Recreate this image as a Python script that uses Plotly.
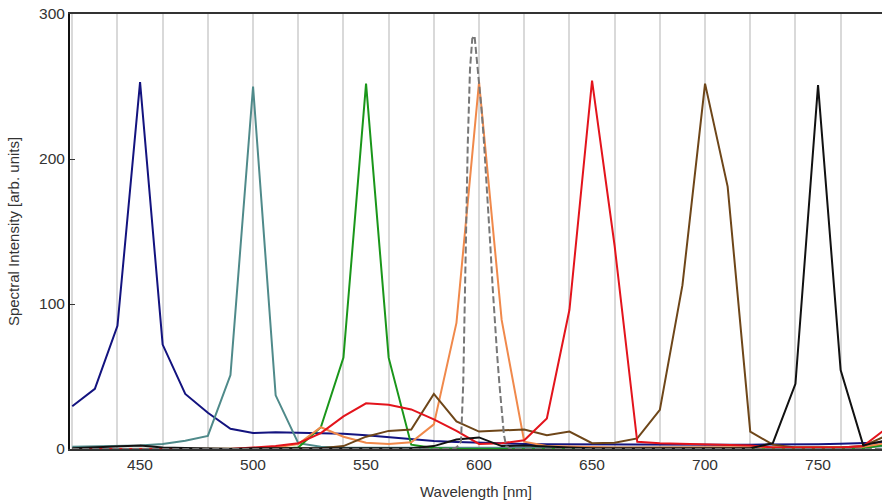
import plotly.graph_objects as go

wavelength = [420, 430, 440, 450, 460, 470, 480, 490, 500, 510, 520, 530, 540, 550, 560, 570,
              580, 590, 600, 610, 620, 630, 640, 650, 660, 670, 680, 690, 700, 710, 720, 730,
              740, 750, 760, 770, 780]

blue =   [29.5, 41.5, 85, 253, 72, 38, 25, 14, 11, 11.5, 11.2, 11, 10.5, 9.5, 8, 6.5,
          5.5, 4.8, 4.2, 3.8, 3.5, 3.3, 3.2, 3, 3, 2.9, 2.8, 2.8, 2.8, 2.9, 3, 3,
          3, 3.2, 3.6, 4, 4.5]
teal =   [1.6, 1.8, 2, 2.5, 3.5, 5.7, 9, 51, 250, 37, 4, 1.5, 1, 0.8, 0.8, 0.8,
          0.8, 0.8, 0.8, 0.8, 0.8, 0.8, 0.8, 0.8, 0.8, 0.8, 0.8, 0.8, 0.8, 0.8, 0.8, 0.8,
          0.8, 0.8, 0.8, 1, 2]
green =  [0, 0, 0, 0, 0, 0, 0, 0, 0, 0, 1, 15, 63, 252, 63, 3, 0.7, 0, 0, 0, 0, 0, 0,
          0, 0, 0, 0, 0, 0, 0, 0, 0, 0, 0, 0, 0.5, 3]
orange = [0, 0, 0, 0, 0, 0, 0, 0, 0, 1, 3.4, 15, 8.5, 4.3, 3.4, 4.6, 17, 87, 253, 89, 5, 2,
          1.5, 1.5, 1, 1, 1, 1, 1, 1, 1, 1, 1, 1, 1, 1.5, 4]
red =    [0, 0, 0, 0, 0, 0, 0, 0, 1, 2, 4, 11, 22.5, 31.5, 30.5, 27.3, 20.5, 12.5, 3.5, 4, 6,
          21, 96, 254, 140, 5, 4, 3.5, 3, 3, 2.5, 1, 1, 1, 1, 2, 14]
brown =  [0, 0, 0, 0, 0, 0, 0, 0, 0, 0, 0, 0.5, 2, 8.5, 12.5, 13.5, 38, 19, 12, 13, 13.5,
          9.5, 12, 4, 4.3, 7.3, 27, 113, 252, 181, 12, 3, 1, 1, 1, 2, 9]
black =  [0.5, 1, 2, 2.5, 1, 0.5, 0.5, 0, 0.5, 0.5, 0.5, 0.5, 0.5, 0.5, 0.5, 0.5, 2, 6.5,
          8, 2, 2.5, 1.5, 1, 0.5, 0.5, 0.5, 0.5, 0.5, 0.5, 0.5, 0.5, 4, 45, 251, 54.5, 2.5, 6]

laser_wl = [420, 440, 460, 480, 500, 520, 540, 560, 580, 588, 590, 592, 593, 594, 595, 596,
            597, 598, 599, 600, 601, 602, 603, 604, 605, 606, 607, 608, 609, 610, 611, 612,
            614, 620, 640, 660, 680, 700, 720, 740, 760, 780]
laser =    [0, 0, 0, 0, 0, 0, 0, 0, 0, 0, 1, 5, 45, 137, 210, 262, 283, 285, 270, 252, 236,
            216, 193, 165, 140, 112, 86, 65, 45, 25, 10, 2, 0, 0, 0, 0, 0, 0, 0, 0, 0, 0]

x_range = [419, 778.3]
label_ticks = [450, 500, 550, 600, 650, 700, 750]

series = [
    ("blue", blue, "#13137f"),
    ("teal", teal, "#4f8a8a"),
    ("green", green, "#1a961a"),
    ("orange", orange, "#f0894b"),
    ("brown", brown, "#6e4619"),
    ("red", red, "#e3141c"),
    ("black", black, "#111111"),
]

fig = go.Figure()
for name, vals, col in series:
    fig.add_trace(go.Scatter(x=wavelength, y=vals, mode="lines", name=name,
                             line=dict(color=col, width=2), showlegend=False))
fig.add_trace(go.Scatter(x=laser_wl, y=laser, mode="lines", name="laser",
                         line=dict(color="#777777", width=2, dash="7px,3px"),
                         showlegend=False))
# carrier trace for the label axis
fig.add_trace(go.Scatter(x=[label_ticks[0]], y=[None], xaxis="x2", mode="lines",
                         showlegend=False, hoverinfo="skip"))

fam = "Liberation Sans, Arial, sans-serif"
tickfont = dict(family=fam, size=15.5, color="#333333")
titlefont = dict(family=fam, size=15, color="#333333")

fig.update_layout(
    width=882, height=504,
    margin=dict(l=70, r=0, t=14, b=55),
    paper_bgcolor="white", plot_bgcolor="white",
    font=tickfont,
    xaxis=dict(range=x_range, tick0=0, dtick=20, showticklabels=False, ticks="",
               showgrid=True, gridcolor="#d9d9d9", gridwidth=1.5, zeroline=False,
               showline=True, mirror=True, linecolor="#333333", linewidth=1.5,
               automargin=False),
    xaxis2=dict(range=x_range, overlaying="x", side="bottom", anchor="y",
                tickvals=label_ticks, ticks="", showgrid=False, zeroline=False,
                showline=False, tickfont=tickfont, ticklabelstandoff=4,
                ticklabeloverflow="allow", automargin=False,
                title=dict(text="Wavelength [nm]", font=titlefont, standoff=14)),
    yaxis=dict(range=[0, 300], tickvals=[0, 100, 200, 300], ticks="inside", ticklen=5,
               tickcolor="#333333", showgrid=False, zeroline=False,
               showline=True, linecolor="#111111", linewidth=2,
               tickfont=tickfont, ticklabeloverflow="allow", automargin=False,
               title=dict(text="Spectral Intensity [arb. units]",
                          font=titlefont, standoff=16)),
)

fig.write_html("out.html", config={"displayModeBar": False},
               post_script="document.body.style.margin='0';")
